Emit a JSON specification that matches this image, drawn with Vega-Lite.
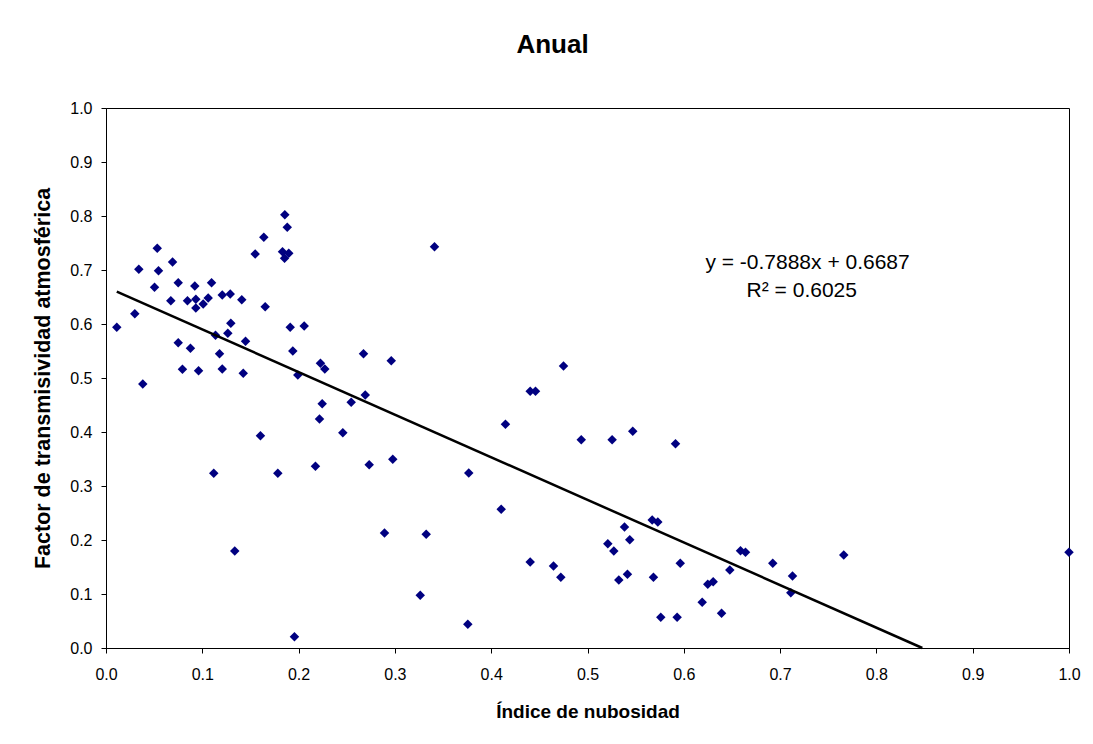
{
  "$schema": "https://vega.github.io/schema/vega-lite/v6.json",
  "width": 963,
  "height": 540,
  "autosize": "none",
  "padding": {"left": 106, "top": 108, "right": 24, "bottom": 96},
  "background": "white",
  "title": {"text": "Anual", "fontSize": 26, "fontWeight": "bold", "font": "Liberation Sans", "color": "black", "anchor": "middle", "dx": -35, "offset": 42},
  "config": {
    "font": "Liberation Sans",
    "view": {"stroke": "black", "strokeWidth": 1},
    "axis": {"grid": false, "domainColor": "black", "tickColor": "black", "labelColor": "black", "titleColor": "black", "labelFont": "Liberation Sans", "titleFont": "Liberation Sans", "labelFontSize": 16, "titleFontSize": 20, "titleFontWeight": "bold", "tickSize": 5, "domainWidth": 1, "tickWidth": 1}
  },
  "datasets": {
    "pts": [
      {"x": 0.0112, "y": 0.5939}, {"x": 0.0299, "y": 0.6191}, {"x": 0.0382, "y": 0.4889}, {"x": 0.0341, "y": 0.7013},
      {"x": 0.0532, "y": 0.7402}, {"x": 0.0545, "y": 0.6987}, {"x": 0.0504, "y": 0.668}, {"x": 0.0673, "y": 0.6431},
      {"x": 0.0691, "y": 0.7148}, {"x": 0.075, "y": 0.6765}, {"x": 0.075, "y": 0.5654}, {"x": 0.0794, "y": 0.5161},
      {"x": 0.0877, "y": 0.555}, {"x": 0.0846, "y": 0.6431}, {"x": 0.0922, "y": 0.6704}, {"x": 0.0933, "y": 0.6457},
      {"x": 0.0933, "y": 0.6296}, {"x": 0.0961, "y": 0.5135}, {"x": 0.1009, "y": 0.637}, {"x": 0.1061, "y": 0.6481},
      {"x": 0.1096, "y": 0.6765}, {"x": 0.1137, "y": 0.5791}, {"x": 0.1179, "y": 0.545}, {"x": 0.1207, "y": 0.5167},
      {"x": 0.1207, "y": 0.6537}, {"x": 0.129, "y": 0.6556}, {"x": 0.1265, "y": 0.5828}, {"x": 0.1296, "y": 0.6013},
      {"x": 0.141, "y": 0.645}, {"x": 0.1449, "y": 0.568}, {"x": 0.1425, "y": 0.5087}, {"x": 0.1549, "y": 0.7296},
      {"x": 0.1639, "y": 0.7606}, {"x": 0.1653, "y": 0.632}, {"x": 0.1913, "y": 0.5939}, {"x": 0.194, "y": 0.55},
      {"x": 0.1857, "y": 0.8024}, {"x": 0.1882, "y": 0.7791}, {"x": 0.1833, "y": 0.7339}, {"x": 0.1898, "y": 0.7309},
      {"x": 0.1854, "y": 0.7217}, {"x": 0.1992, "y": 0.5056}, {"x": 0.2058, "y": 0.5963}, {"x": 0.2227, "y": 0.5272},
      {"x": 0.2272, "y": 0.5167}, {"x": 0.2674, "y": 0.545}, {"x": 0.2962, "y": 0.532}, {"x": 0.2692, "y": 0.4685},
      {"x": 0.2546, "y": 0.455}, {"x": 0.2245, "y": 0.4524}, {"x": 0.2217, "y": 0.4241}, {"x": 0.2459, "y": 0.3987},
      {"x": 0.1604, "y": 0.3931}, {"x": 0.1119, "y": 0.3235}, {"x": 0.1784, "y": 0.3235}, {"x": 0.2175, "y": 0.3365},
      {"x": 0.1337, "y": 0.1796}, {"x": 0.1957, "y": 0.0209}, {"x": 0.2733, "y": 0.3394}, {"x": 0.2978, "y": 0.3494},
      {"x": 0.2892, "y": 0.213}, {"x": 0.3411, "y": 0.7431}, {"x": 0.4751, "y": 0.5222}, {"x": 0.4405, "y": 0.4754},
      {"x": 0.446, "y": 0.4754}, {"x": 0.4148, "y": 0.4143}, {"x": 0.4935, "y": 0.3857}, {"x": 0.5256, "y": 0.3857},
      {"x": 0.547, "y": 0.4013}, {"x": 0.5914, "y": 0.3783}, {"x": 0.3767, "y": 0.3241}, {"x": 0.4104, "y": 0.2569},
      {"x": 0.3325, "y": 0.2106}, {"x": 0.3263, "y": 0.0976}, {"x": 0.3757, "y": 0.0439}, {"x": 0.4405, "y": 0.1593},
      {"x": 0.4647, "y": 0.1519}, {"x": 0.4723, "y": 0.1309}, {"x": 0.5211, "y": 0.1931}, {"x": 0.5273, "y": 0.1796},
      {"x": 0.5384, "y": 0.2241}, {"x": 0.5439, "y": 0.2006}, {"x": 0.5325, "y": 0.1259}, {"x": 0.5415, "y": 0.1365},
      {"x": 0.5672, "y": 0.237}, {"x": 0.573, "y": 0.2333}, {"x": 0.5685, "y": 0.1309}, {"x": 0.5963, "y": 0.1569},
      {"x": 0.5761, "y": 0.0569}, {"x": 0.5931, "y": 0.0569}, {"x": 0.6589, "y": 0.1802}, {"x": 0.6641, "y": 0.1772},
      {"x": 0.6924, "y": 0.1569}, {"x": 0.7661, "y": 0.1722}, {"x": 1.0, "y": 0.1772}, {"x": 0.6478, "y": 0.1444},
      {"x": 0.6249, "y": 0.118}, {"x": 0.6305, "y": 0.1228}, {"x": 0.7129, "y": 0.1333}, {"x": 0.7111, "y": 0.1024},
      {"x": 0.6191, "y": 0.0846}, {"x": 0.6392, "y": 0.0643}
    ],
    "trend": [
      {"x": 0.0112, "y": 0.6599},
      {"x": 0.8477, "y": 0.0}
    ],
    "eq": [
      {"x": 0.7285, "y": 0.7013, "t": "y = -0.7888x + 0.6687"},
      {"x": 0.7225, "y": 0.6494, "t": "R² = 0.6025"}
    ]
  },
  "encoding": {
    "x": {"field": "x", "type": "quantitative", "scale": {"domain": [0, 1], "nice": false, "zero": false},
      "axis": {"title": "Índice de nubosidad", "titleFontSize": 19, "values": [0, 0.1, 0.2, 0.3, 0.4, 0.5, 0.6, 0.7, 0.8, 0.9, 1.0], "format": ".1f", "labelPadding": 13, "titlePadding": 20, "labelFlush": false}},
    "y": {"field": "y", "type": "quantitative", "scale": {"domain": [0, 1], "nice": false, "zero": false},
      "axis": {"title": "Factor de transmisividad atmosférica", "titleFontSize": 21.5, "values": [0, 0.1, 0.2, 0.3, 0.4, 0.5, 0.6, 0.7, 0.8, 0.9, 1.0], "format": ".1f", "labelPadding": 9, "titlePadding": 15, "labelFlush": false}}
  },
  "layer": [
    {"data": {"name": "pts"}, "mark": {"type": "point", "shape": "diamond", "filled": true, "color": "#000080", "opacity": 1, "size": 90, "strokeWidth": 0}},
    {"data": {"name": "trend"}, "mark": {"type": "line", "color": "black", "strokeWidth": 2.5}},
    {"data": {"name": "eq"}, "mark": {"type": "text", "fontSize": 21, "align": "center", "baseline": "alphabetic", "color": "black", "font": "Liberation Sans"},
      "encoding": {"text": {"field": "t", "type": "nominal"}}}
  ]
}
